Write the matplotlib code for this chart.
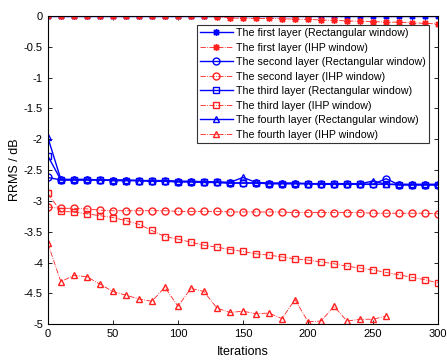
import numpy as np
import matplotlib
matplotlib.use('Agg')
import matplotlib.pyplot as plt

plt.rcParams['font.family'] = ['Liberation Sans', 'DejaVu Sans']

iters = np.arange(0, 301, 10)
iters4 = np.arange(0, 261, 10)

# first layer
first_rect = [0.0]*31
first_ihp = [0, 0, 0, 0, 0, 0, 0, 0, 0, 0, 0, 0, 0, -0.02, -0.03, -0.04, -0.04, -0.04,
             -0.045, -0.05, -0.055, -0.065, -0.07, -0.08, -0.085, -0.09, -0.1, -0.1,
             -0.11, -0.12, -0.13]
# second layer
second_rect = [-2.62, -2.66, -2.66, -2.66, -2.66, -2.67, -2.67, -2.67, -2.68, -2.68, -2.69,
               -2.69, -2.70, -2.70, -2.71, -2.71, -2.71, -2.72, -2.72, -2.72, -2.72, -2.73,
               -2.73, -2.73, -2.73, -2.73, -2.64, -2.74, -2.74, -2.74, -2.74]
second_ihp = [-3.10, -3.12, -3.12, -3.13, -3.15, -3.16, -3.16, -3.16, -3.16, -3.16, -3.17,
              -3.17, -3.17, -3.17, -3.18, -3.18, -3.18, -3.18, -3.18, -3.19, -3.19, -3.19,
              -3.19, -3.19, -3.19, -3.20, -3.20, -3.20, -3.20, -3.20, -3.21]
# third layer
third_rect = [-2.27, -2.66, -2.66, -2.66, -2.66, -2.67, -2.67, -2.67, -2.68, -2.68, -2.69,
              -2.69, -2.70, -2.70, -2.71, -2.71, -2.71, -2.72, -2.72, -2.72, -2.72, -2.73,
              -2.73, -2.73, -2.73, -2.73, -2.73, -2.74, -2.74, -2.74, -2.74]
third_ihp = [-2.88, -3.17, -3.18, -3.21, -3.24, -3.27, -3.32, -3.38, -3.48, -3.58, -3.62,
             -3.67, -3.72, -3.75, -3.79, -3.82, -3.86, -3.88, -3.91, -3.94, -3.96, -3.99,
             -4.02, -4.06, -4.09, -4.12, -4.16, -4.20, -4.24, -4.28, -4.33]
# fourth layer
fourth_rect = [-1.97, -2.65, -2.65, -2.65, -2.66, -2.66, -2.66, -2.67, -2.67, -2.67, -2.68,
               -2.68, -2.69, -2.69, -2.70, -2.62, -2.70, -2.71, -2.71, -2.71, -2.72, -2.72,
               -2.72, -2.72, -2.72, -2.68, -2.73, -2.73, -2.73, -2.73, -2.73]
fourth_ihp = [-3.69, -4.31, -4.21, -4.23, -4.35, -4.47, -4.53, -4.59, -4.63, -4.40, -4.71,
              -4.42, -4.47, -4.74, -4.81, -4.79, -4.83, -4.82, -4.91, -4.60, -4.96, -4.95,
              -4.71, -4.95, -4.92, -4.92, -4.87]

labels = ['The first layer (Rectangular window)', 'The first layer (IHP window)',
          'The second layer (Rectangular window)', 'The second layer (IHP window)',
          'The third layer (Rectangular window)', 'The third layer (IHP window)',
          'The fourth layer (Rectangular window)', 'The fourth layer (IHP window)']

fig = plt.figure(figsize=(4.47, 3.63), dpi=100)
ax = fig.add_axes([0.107, 0.107, 0.873, 0.849])

star = (8, 2, 0)
blue = dict(color='#0000FF', lw=1.0, ls='-', mfc='none', ms=5)
red = dict(color='#FF2020', lw=0.6, ls='-.', mfc='none', ms=5)

ax.plot(iters, first_rect, marker=star, label=labels[0], **blue)
ax.plot(iters, first_ihp, marker=star, label=labels[1], **red)
ax.plot(iters, second_rect, marker='o', label=labels[2], **blue)
ax.plot(iters, second_ihp, marker='o', label=labels[3], **red)
ax.plot(iters, third_rect, marker='s', label=labels[4], **blue)
ax.plot(iters, third_ihp, marker='s', label=labels[5], **red)
ax.plot(iters, fourth_rect, marker='^', label=labels[6], **blue)
ax.plot(iters4, fourth_ihp, marker='^', label=labels[7], **red)

ax.set_xlim(0, 300)
ax.set_ylim(-5, 0)
ax.set_xticks(np.arange(0, 301, 50))
ax.set_yticks(np.arange(-5, 0.01, 0.5))
ax.set_yticklabels(['-5', '-4.5', '-4', '-3.5', '-3', '-2.5', '-2', '-1.5', '-1', '-0.5', '0'])
ax.tick_params(direction='in', top=True, right=True, labelsize=8, length=3, width=0.6)
for s in ax.spines.values():
    s.set_linewidth(0.8)
ax.set_xlabel('Iterations', fontsize=9, labelpad=5)
ax.set_ylabel('RRMS / dB', fontsize=9, labelpad=2)

leg = ax.legend(loc='upper right', bbox_to_anchor=(0.977, 0.971), borderaxespad=0,
                fontsize=7.7, fancybox=False, edgecolor='#333333', framealpha=1,
                handlelength=3.1, handletextpad=0.3, labelspacing=0.42, borderpad=0.3)
leg.get_frame().set_linewidth(0.8)

fig.savefig('out.png', dpi=100)
